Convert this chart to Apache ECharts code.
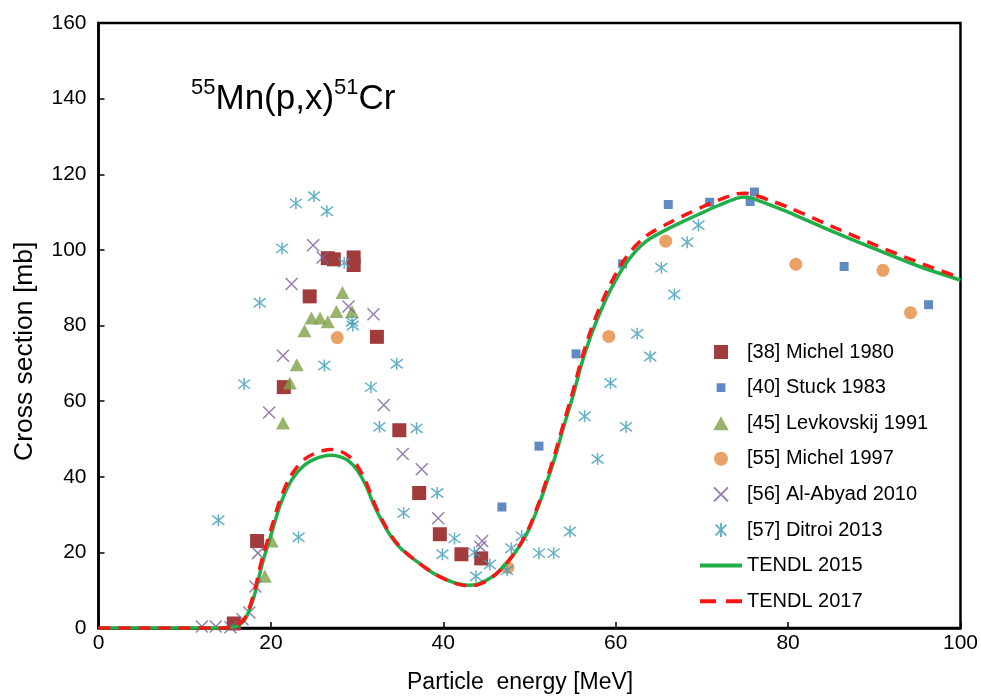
<!DOCTYPE html>
<html>
<head>
<meta charset="utf-8">
<script src="https://cdn.jsdelivr.net/npm/echarts@6/dist/echarts.min.js"></script>
<style>html,body{margin:0;padding:0;background:#fff;}#c{width:981px;height:697px;}</style>
</head>
<body>
<div id="c"></div>
<script>
const xTicks = [0, 20, 40, 60, 80, 100];
const yTicks = [0, 20, 40, 60, 80, 100, 120, 140, 160];

const michel1980 = [[15.7,1.2],[18.4,23],[21.5,63.7],[24.5,87.7],[26.6,97.8],[27.3,97.5],[29.6,98],[29.6,96],[32.3,77],[34.9,52.3],[37.2,35.7],[39.6,24.8],[42.1,19.5],[44.4,18.4]];
const stuck1983 = [[46.8,32],[51.1,48.1],[55.4,72.5],[60.8,96.3],[66.1,112],[70.9,112.6],[75.6,112.8],[76.1,115.3],[86.5,95.6],[96.3,85.5]];
const levkovskij1991 = [[19.3,13.7],[20.1,23],[21.4,54.2],[22.2,64.8],[23,69.6],[23.9,78.6],[24.7,82],[25.7,82],[26.6,81],[27.6,83.7],[28.3,88.7],[29.4,83.7]];
const michel1997 = [[27.7,76.8],[47.5,16.0],[59.2,77.1],[65.8,102.3],[80.9,96.2],[91.0,94.6],[94.2,83.4]];
const alAbyad2010 = [[12.0,0.4],[13.6,0.4],[15.3,0.2],[16.7,2.3],[17.5,4.1],[18.2,11],[18.5,19.8],[19.8,57],[21.4,72],[22.4,91],[24.9,101.2],[26,98],[29,85],[31.9,83],[33.1,59],[35.3,46],[37.5,42],[39.4,29],[44.5,23],[44.3,21.5]];
const ditroi2013 = [[13.9,28.5],[16.9,64.5],[18.7,86],[21.3,100.4],[22.9,112.3],[25,114.2],[26.5,110.2],[28.5,96.6],[29.4,81],[29.5,80],[26.2,69.4],[23.2,24],[31.6,63.7],[32.6,53.2],[34.6,69.9],[35.4,30.4],[36.9,52.8],[39.3,35.7],[39.9,19.5],[41.3,23.7],[43.6,20],[43.8,13.7],[45.4,16.8],[47.4,15.3],[47.9,21.1],[49.1,24.3],[51.1,19.8],[52.8,19.8],[54.7,25.5],[56.4,56],[57.9,44.7],[59.4,64.8],[61.2,53.2],[62.5,77.8],[64,71.8],[65.3,95.3],[66.8,88.2],[68.3,102],[69.6,106.5]];

const tendlX = [0,5,10,14,15,16,17,18,19,20,21,22,23,24,25,26,27,28,29,30,31,32,33,34,35,36,37,38,39,40,41,42,43,44,45,46,47,48,49,50,51,52,53,54,55,56,57,58,59,60,61,62,63,64,66,68,70,72,74,75,76,78,80,85,90,95,100];
const tendl2015 = [0,0,0,0,0.1,0.5,2.3,8,17,24.5,32,37.5,41,43.3,44.6,45.4,45.7,45.3,44.2,41.8,37.8,32.3,27.8,24,21.2,19.2,17.5,15.8,14.3,13.2,12.2,11.6,11.3,11.6,12.6,14.1,16.3,19,22.2,26.4,32,38.5,45.5,53.5,61,69.5,76.5,82.4,87.6,92,95.8,98.8,101.2,103,105.5,107.7,109.8,111.8,113.6,114,113.5,111.8,110,105,100.3,95.8,92];
const tendl2017 = [0,0,0,0,0.1,0.6,2.7,9,18.5,26,33.5,39,42.5,44.8,46.1,46.9,47.2,46.8,45.5,43,38.8,33,28.2,24.3,21.4,19.3,17.5,15.8,14.3,13.1,12.1,11.4,11.1,11.4,12.4,14,16.2,19,22.4,26.8,32.6,39.3,46.5,54.5,62.3,70.8,78,84,89.2,93.6,97.4,100.3,102.6,104.4,106.9,109.2,111.3,113.2,114.8,115,114.6,113,111.3,106.3,101.4,96.8,92.6];

const FONT = '"Liberation Sans", Arial, sans-serif';
const RECT_PATH = 'path://M0,0H10V10H0Z';
const SMALL_RECT_ICON = 'path://M-3,-3M13,13M0,0H10V10H0Z';
const TRI_PATH = 'path://M5,0L10,9L0,9Z';
const X_PATH = 'path://M0,0L10,10M10,0L0,10';
const AST_PATH = 'path://M0,0L10,10M10,0L0,10M5,-1.5L5,11.5';

function zip(xs, ys) { return xs.map((x, i) => [x, ys[i]]); }

const chart = echarts.init(document.getElementById('c'), null, {renderer: 'canvas'});
chart.setOption({
  animation: false,
  backgroundColor: '#fff',
  textStyle: {fontFamily: FONT},
  title: {
    text: '{sup|55}{main|Mn(p,x)}{sup|51}{main|Cr}',
    left: 186, top: 72,
    textStyle: {
      fontWeight: 'normal',
      rich: {
        main: {fontSize: 35, fontFamily: FONT, fontWeight: 'normal', color: '#000', lineHeight: 40, verticalAlign: 'bottom'},
        sup: {fontSize: 22, fontFamily: FONT, fontWeight: 'normal', color: '#000', lineHeight: 40, verticalAlign: 'top'}
      }
    }
  },
  grid: {left: 98.5, right: 20.5, top: 23, bottom: 69, show: true, borderColor: '#000', borderWidth: 2.5, backgroundColor: 'transparent'},
  xAxis: {
    type: 'value', min: xTicks[0], max: xTicks[xTicks.length - 1], interval: 20,
    axisLine: {show: true, lineStyle: {color: '#000', width: 2.5}},
    axisTick: {show: true, inside: true, length: 6, lineStyle: {color: '#000', width: 1.5}},
    axisLabel: {color: '#000', fontSize: 21, fontFamily: FONT, margin: 5},
    splitLine: {show: false}
  },
  yAxis: {
    type: 'value', min: yTicks[0], max: yTicks[yTicks.length - 1], interval: 20,
    axisLine: {show: true, lineStyle: {color: '#000', width: 2.5}},
    axisTick: {show: true, inside: true, length: 6, lineStyle: {color: '#000', width: 1.5}},
    axisLabel: {color: '#000', fontSize: 21, fontFamily: FONT, margin: 12},
    splitLine: {show: false}
  },
  legend: {
    orient: 'vertical', left: 693, top: 337,
    itemWidth: 42, itemHeight: 14, itemGap: 15.6,
    symbolKeepAspect: true,
    textStyle: {fontSize: 20, fontFamily: FONT, color: '#000', lineHeight: 20},
    data: [
      '[38] Michel 1980',
      {name: '[40] Stuck 1983', icon: SMALL_RECT_ICON},
      '[45] Levkovskij 1991', '[55] Michel 1997', '[56] Al-Abyad 2010', '[57] Ditroi 2013',
      {name: 'TENDL 2015', itemStyle: {opacity: 0}, lineStyle: {width: 4}},
      {name: 'TENDL 2017', itemStyle: {opacity: 0}, lineStyle: {width: 4, type: [16, 10]}}
    ]
  },
  graphic: [
    {type: 'text', left: 407, top: 671, style: {text: 'Particle  energy [MeV]', fontSize: 23, fontFamily: FONT, fill: '#000'}},
    {type: 'text', x: 11, y: 461, rotation: Math.PI / 2, style: {text: 'Cross section [mb]', fontSize: 26.5, fontFamily: FONT, fill: '#000', textVerticalAlign: 'top'}}
  ],
  series: [
    {name: '[38] Michel 1980', type: 'scatter', data: michel1980, symbol: RECT_PATH, symbolSize: 14, itemStyle: {color: '#a23c3c', opacity: 1}},
    {name: '[40] Stuck 1983', type: 'scatter', data: stuck1983, symbol: RECT_PATH, symbolSize: 9, itemStyle: {color: '#3b6db3'}},
    {name: '[45] Levkovskij 1991', type: 'scatter', data: levkovskij1991, symbol: TRI_PATH, symbolSize: [14, 13], itemStyle: {color: '#80a048'}},
    {name: '[55] Michel 1997', type: 'scatter', data: michel1997, symbol: 'circle', symbolSize: 13, itemStyle: {color: '#e48a3e'}},
    {name: '[56] Al-Abyad 2010', type: 'scatter', data: alAbyad2010, symbol: X_PATH, symbolSize: 12, itemStyle: {color: 'rgba(0,0,0,0)', borderColor: '#7b5e9c', borderWidth: 1.5}},
    {name: '[57] Ditroi 2013', type: 'scatter', data: ditroi2013, symbol: AST_PATH, symbolSize: 12, itemStyle: {color: 'rgba(0,0,0,0)', borderColor: '#3f9dbd', borderWidth: 1.5}},
    {name: 'TENDL 2015', type: 'line', data: zip(tendlX, tendl2015), smooth: 0.3, symbol: 'none', lineStyle: {color: '#1fae48', width: 3.5}, itemStyle: {color: '#1fae48'}, z: 3},
    {name: 'TENDL 2017', type: 'line', data: zip(tendlX, tendl2017), smooth: 0.3, symbol: 'none', lineStyle: {color: '#ff1414', width: 3.5, type: [12, 8]}, itemStyle: {color: '#ff1414'}, z: 4}
  ]
});
</script>
</body>
</html>
